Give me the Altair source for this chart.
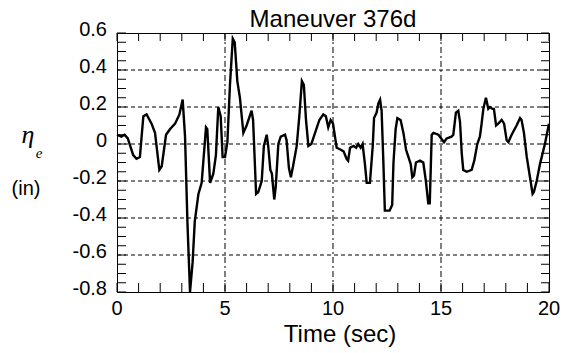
import altair as alt
import pandas as pd
import numpy as np

# Data
time_sec = [0, 0.2, 0.35, 0.5, 0.75, 0.9, 1.06, 1.22, 1.37, 1.6,
            1.76, 1.96, 2.07, 2.27, 2.45, 2.69, 2.89, 3.04, 3.15, 3.26,
            3.38, 3.5, 3.6, 3.77, 3.92, 4.12, 4.18, 4.31, 4.46, 4.58,
            4.69, 4.8, 4.89, 5.0, 5.11, 5.23, 5.36, 5.45, 5.57, 5.69,
            5.85, 6.0, 6.23, 6.3, 6.44, 6.54, 6.7, 6.8, 6.93, 7.0,
            7.1, 7.17, 7.28, 7.35, 7.47, 7.58, 7.78, 7.85, 7.96, 8.05,
            8.15, 8.32, 8.44, 8.56, 8.65, 8.75, 8.86, 9.0, 9.17, 9.37,
            9.55, 9.67, 9.78, 9.89, 10.0, 10.17, 10.34, 10.49, 10.63, 10.7,
            10.79, 10.95, 11.07, 11.17, 11.28, 11.37, 11.48, 11.56, 11.71, 11.84,
            11.9, 12.02, 12.1, 12.18, 12.25, 12.33, 12.4, 12.62, 12.74, 12.8,
            12.9, 12.98, 13.13, 13.26, 13.38, 13.49, 13.6, 13.67, 13.75, 13.84,
            14.03, 14.18, 14.3, 14.41, 14.48, 14.57, 14.65, 14.88, 15.14, 15.26,
            15.49, 15.57, 15.69, 15.8, 15.88, 15.96, 16.03, 16.19, 16.42, 16.54,
            16.68, 16.8, 16.88, 16.96, 17.08, 17.19, 17.27, 17.38, 17.45, 17.55,
            17.65, 17.81, 17.92, 18.04, 18.12, 18.27, 18.5, 18.66, 18.73, 18.84,
            18.97, 19.12, 19.24, 19.3, 19.43, 19.58, 19.81, 20.0]

eta_e = [0.05, 0.04, 0.05, 0.03, -0.06, -0.08, -0.07, 0.15, 0.16, 0.11,
         0.06, -0.14, -0.12, 0.05, 0.08, 0.11, 0.16, 0.24, 0.04, -0.42,
         -0.8, -0.64, -0.42, -0.27, -0.21, 0.09, 0.08, -0.21, -0.16, -0.06,
         0.20, 0.15, -0.07, -0.07, 0.01, 0.32, 0.57, 0.55, 0.34, 0.25,
         0.06, 0.10, 0.18, 0.13, -0.27, -0.26, -0.20, -0.01, 0.05, -0.01,
         -0.14, -0.16, -0.30, -0.23, 0.0, 0.04, 0.05, 0.02, -0.13, -0.18,
         -0.12, -0.01, 0.15, 0.34, 0.32, 0.13, -0.01, 0.0, 0.06, 0.13,
         0.16, 0.15, 0.09, 0.13, 0.11, -0.02, -0.03, -0.04, -0.08, -0.09,
         -0.02, -0.01, -0.02, 0.0, -0.02, 0.0, -0.11, -0.21, -0.21, -0.01,
         0.14, 0.17, 0.22, 0.24, 0.18, -0.09, -0.36, -0.36, -0.33, -0.1,
         0.08, 0.14, 0.13, 0.06, -0.03, -0.07, -0.11, -0.18, -0.17, -0.1,
         -0.09, -0.1, -0.2, -0.32, -0.32, 0.05, 0.06, 0.05, 0.01, 0.03,
         0.04, 0.05, 0.17, 0.18, 0.12, -0.05, -0.14, -0.15, -0.14, -0.09,
         0.0, 0.04, 0.11, 0.19, 0.25, 0.19, 0.2, 0.19, 0.19, 0.1,
         0.11, 0.13, 0.11, 0.02, 0.01, 0.05, 0.1, 0.14, 0.13, 0.06,
         -0.07, -0.18, -0.27, -0.26, -0.2, -0.11, 0.0, 0.11]

x_labels = [0, 5, 10, 15, 20]
y_labels = [-0.8, -0.6, -0.4, -0.2, 0, 0.2, 0.4, 0.6]
x_grid = [5, 10, 15]
y_grid = [-0.6, -0.4, -0.2, 0, 0.2, 0.4]
x_minor = [float(v) for v in range(0, 21)]
y_minor = [round(float(v), 2) for v in np.arange(-0.8, 0.6001, 0.05)]

W, H = 432, 259
FONT = "Liberation Sans"

xs = alt.Scale(domain=[0, 20], nice=False, zero=False)
ys = alt.Scale(domain=[-0.8, 0.6], nice=False, zero=False)

df = pd.DataFrame({"t": time_sec, "eta": eta_e})

line = alt.Chart(df).mark_line(color="black", strokeWidth=2.4).encode(
    x=alt.X("t:Q", scale=xs, axis=None),
    y=alt.Y("eta:Q", scale=ys, axis=None),
)

hgrid = alt.Chart(pd.DataFrame({"hg": y_grid})).mark_rule(
    color="black", strokeWidth=1, strokeDash=[4, 3]).encode(
    y=alt.Y("hg:Q", scale=ys, axis=None), x=alt.value(0), x2=alt.value(W))

vgrid = alt.Chart(pd.DataFrame({"vg": x_grid})).mark_rule(
    color="black", strokeWidth=1, strokeDash=[6, 3, 2, 3]).encode(
    x=alt.X("vg:Q", scale=xs, axis=None), y=alt.value(0), y2=alt.value(H))

# inward minor ticks on all four sides (solid: dash with no gap)
xdf = pd.DataFrame({"xb": x_minor})
xdf2 = pd.DataFrame({"xt2": x_minor})
ydf = pd.DataFrame({"yl": y_minor})
ydf2 = pd.DataFrame({"yr": y_minor})
tick_bottom = alt.Chart(xdf).mark_rule(
    color="black", strokeWidth=1, strokeDash=[20, 0]).encode(
    x=alt.X("xb:Q", scale=xs, axis=None), y=alt.value(H - 9), y2=alt.value(H))
tick_top = alt.Chart(xdf2).mark_rule(
    color="black", strokeWidth=1, strokeDash=[20, 0]).encode(
    x=alt.X("xt2:Q", scale=xs, axis=None), y=alt.value(0), y2=alt.value(8))
tick_left = alt.Chart(ydf).mark_rule(
    color="black", strokeWidth=1, strokeDash=[20, 0]).encode(
    y=alt.Y("yl:Q", scale=ys, axis=None), x=alt.value(0), x2=alt.value(9))
tick_right = alt.Chart(ydf2).mark_rule(
    color="black", strokeWidth=1, strokeDash=[20, 0]).encode(
    y=alt.Y("yr:Q", scale=ys, axis=None), x=alt.value(W - 8), x2=alt.value(W))

# tick labels as text marks positioned by the shared scales
xlab_df = pd.DataFrame({"xv": x_labels, "xt": [str(v) for v in x_labels]})
ylab_df = pd.DataFrame({"yv": y_labels,
                        "yt": ["0" if v == 0 else f"{v:.1f}" for v in y_labels]})
xlab = alt.Chart(xlab_df).mark_text(
    font=FONT, fontSize=20, color="black", align="center", baseline="top").encode(
    x=alt.X("xv:Q", scale=xs, axis=None), y=alt.value(H + 7), text="xt:N")
ylab = alt.Chart(ylab_df).mark_text(
    font=FONT, fontSize=20, color="black", align="right", baseline="middle", dy=-3).encode(
    y=alt.Y("yv:Q", scale=ys, axis=None), x=alt.value(-10), text="yt:N")

def label(txt, x, y, size, font=FONT, style="normal", baseline="alphabetic"):
    return alt.Chart(pd.DataFrame({"s": [txt]})).mark_text(
        font=font, fontSize=size, fontStyle=style, color="black",
        align="center", baseline=baseline).encode(
        text="s:N", x=alt.value(x), y=alt.value(y))

title = label("Maneuver 376d", 216, -6, 24)
xtitle = label("Time (sec)", 223, 309, 24)
eta_lbl = label("η", -89, 110, 26, font="Liberation Serif", style="italic")
sub_lbl = label("e", -78, 125, 15, font="Liberation Serif", style="italic")
in_lbl = label("(in)", -91, 156, 20, baseline="middle")

chart = alt.layer(
    hgrid, vgrid, tick_bottom, tick_top, tick_left, tick_right, line,
    xlab, ylab, title, xtitle, eta_lbl, sub_lbl, in_lbl
).properties(
    width=W, height=H,
    autosize=alt.AutoSizeParams(type="none"),
    padding={"left": 117, "top": 33, "right": 14, "bottom": 61},
    background="white",
).configure_view(stroke="black", strokeWidth=1)

chart.save("out.html", embed_options={"renderer": "svg", "actions": False})
